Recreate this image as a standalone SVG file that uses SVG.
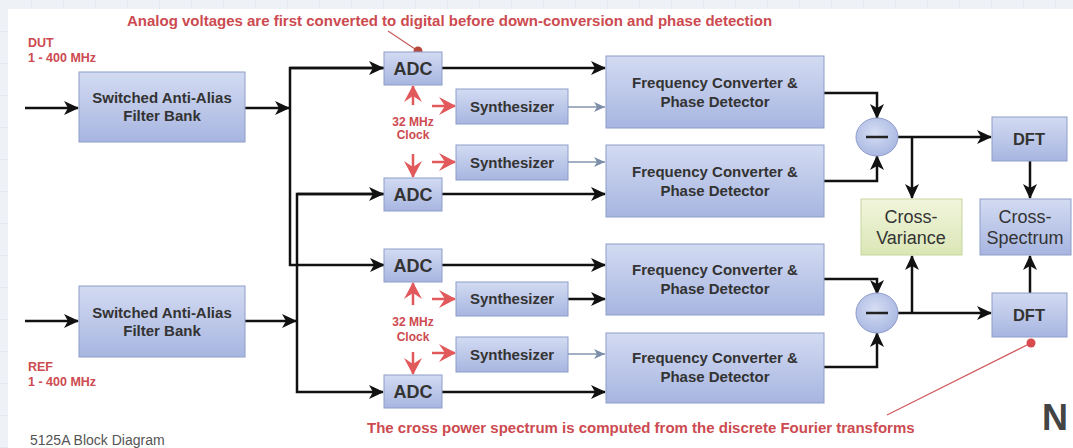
<svg xmlns="http://www.w3.org/2000/svg" width="1073" height="448" viewBox="0 0 1073 448">
  <defs>
    <linearGradient id="gBlue" x1="0" y1="0" x2="0" y2="1">
      <stop offset="0" stop-color="#d3dbf2"/>
      <stop offset="1" stop-color="#a7b5e0"/>
    </linearGradient>
    <linearGradient id="gGreen" x1="0" y1="0" x2="0" y2="1">
      <stop offset="0" stop-color="#f1f5dc"/>
      <stop offset="1" stop-color="#dbe6b6"/>
    </linearGradient>
    <radialGradient id="gCirc" cx="0.45" cy="0.4" r="0.7">
      <stop offset="0" stop-color="#d6def4"/>
      <stop offset="1" stop-color="#a3b2df"/>
    </radialGradient>
    <pattern id="grid" width="32" height="32" patternUnits="userSpaceOnUse">
      <rect width="32" height="32" fill="#eef2f7"/>
      <path d="M32,0 V32 M0,32 H32" stroke="#e2e8f0" stroke-width="1.5" fill="none"/>
    </pattern>
    <marker id="ab" markerUnits="userSpaceOnUse" markerWidth="16" markerHeight="14" refX="14" refY="7" orient="auto">
      <path d="M0,0 L15,7 L0,14 L4,7 z" fill="#111"/>
    </marker>
    <marker id="ag" markerUnits="userSpaceOnUse" markerWidth="12" markerHeight="10" refX="11" refY="5" orient="auto">
      <path d="M0,0 L11,5 L0,10 L3,5 z" fill="#7d8ea8"/>
    </marker>
    <marker id="ar" markerUnits="userSpaceOnUse" markerWidth="18" markerHeight="18" refX="16" refY="9" orient="auto">
      <path d="M0,0 L17,9 L0,18 L6,9 z" fill="#e2595c"/>
    </marker>
    <style>
      .box { fill: url(#gBlue); stroke: #8e9dca; stroke-width: 1; }
      .green { fill: url(#gGreen); stroke: #c7d59e; stroke-width: 1; }
      .circ { fill: url(#gCirc); stroke: #8e9dca; stroke-width: 1; }
      .t { font-family: "Liberation Sans", Arial, sans-serif; font-weight: bold; fill: #333; text-anchor: middle; }
      .t13 { font-size: 15px; }
      .t15 { font-size: 18px; }
      .tn { font-family: "Liberation Sans", Arial, sans-serif; font-size: 18px; fill: #333; text-anchor: middle; }
      .red { font-family: "Liberation Sans", Arial, sans-serif; font-weight: bold; fill: #cc4a50; }
      .blk { fill: none; stroke: #111; stroke-width: 2.5; }
      .gry { fill: none; stroke: #8495ae; stroke-width: 1.3; }
      .rarr { fill: none; stroke: #e2595c; stroke-width: 2.5; }
    </style>
  </defs>

  <rect width="1073" height="448" fill="url(#grid)"/>
  <rect x="8" y="9" width="1065" height="439" fill="#ffffff"/>

  <!-- labels -->
  <g id="labels">
    <text class="red" x="127" y="26" font-size="15px">Analog voltages are first converted to digital before down-conversion and phase detection</text>
    <text class="red" x="367" y="433" font-size="15px">The cross power spectrum is computed from the discrete Fourier transforms</text>
    <text class="red" x="28" y="47" font-size="12.5px">DUT</text>
    <text class="red" x="28" y="62" font-size="12.5px">1 - 400 MHz</text>
    <text class="red" x="28" y="371" font-size="12.5px">REF</text>
    <text class="red" x="28" y="386" font-size="12.5px">1 - 400 MHz</text>
    <text class="red" x="413" y="126" font-size="12px" text-anchor="middle">32 MHz</text>
    <text class="red" x="413" y="139" font-size="12px" text-anchor="middle">Clock</text>
    <text class="red" x="413" y="326" font-size="12px" text-anchor="middle">32 MHz</text>
    <text class="red" x="413" y="341" font-size="12px" text-anchor="middle">Clock</text>
    <text x="30" y="445" font-family="Liberation Sans, Arial, sans-serif" font-size="14px" fill="#555">5125A Block Diagram</text>
    <text x="1042" y="430" font-family="Liberation Sans, Arial, sans-serif" font-size="36px" font-weight="bold" fill="#444">N</text>
  </g>

  <!-- connectors -->
  <g id="connectors">
    <path class="blk" d="M25,108 H78" marker-end="url(#ab)"/>
    <path class="blk" d="M25,321 H78" marker-end="url(#ab)"/>
    <path class="blk" d="M245,108 H289" marker-end="url(#ab)"/>
    <path class="blk" d="M245,321 H296" marker-end="url(#ab)"/>
    <path class="blk" d="M384,68 H290 V265 H384" marker-end="url(#ab)"/>
    <path class="blk" d="M290,68 H383" marker-end="url(#ab)"/>
    <path class="blk" d="M384,194 H297 V392 H383" marker-end="url(#ab)"/>
    <path class="blk" d="M297,194 H383" marker-end="url(#ab)"/>

    <path class="blk" d="M442,68 H605" marker-end="url(#ab)"/>
    <path class="blk" d="M442,194 H605" marker-end="url(#ab)"/>
    <path class="blk" d="M442,265 H605" marker-end="url(#ab)"/>
    <path class="blk" d="M442,392 H605" marker-end="url(#ab)"/>

    <path class="gry" d="M568,107 H605" marker-end="url(#ag)"/>
    <path class="gry" d="M568,162 H605" marker-end="url(#ag)"/>
    <path class="blk" d="M568,299 H605" marker-end="url(#ab)"/>
    <path class="gry" d="M568,354 H605" marker-end="url(#ag)"/>

    <path class="rarr" d="M413,105 V86" marker-end="url(#ar)"/>
    <path class="rarr" d="M432,106 H455" marker-end="url(#ar)"/>
    <path class="rarr" d="M413,154 V177" marker-end="url(#ar)"/>
    <path class="rarr" d="M432,162 H455" marker-end="url(#ar)"/>
    <path class="rarr" d="M413,305 V283" marker-end="url(#ar)"/>
    <path class="rarr" d="M432,299 H455" marker-end="url(#ar)"/>
    <path class="rarr" d="M413,352 V374" marker-end="url(#ar)"/>
    <path class="rarr" d="M432,353 H455" marker-end="url(#ar)"/>

    <path class="blk" d="M824,93 H877 V118" marker-end="url(#ab)"/>
    <path class="blk" d="M824,181 H877 V156" marker-end="url(#ab)"/>
    <path class="blk" d="M824,279 H877 V294" marker-end="url(#ab)"/>
    <path class="blk" d="M824,367 H877 V333" marker-end="url(#ab)"/>

    <path class="blk" d="M898,137 H991" marker-end="url(#ab)"/>
    <path class="blk" d="M912,137 V198" marker-end="url(#ab)"/>
    <path class="blk" d="M1030,161 V198" marker-end="url(#ab)"/>
    <path class="blk" d="M898,313 H991" marker-end="url(#ab)"/>
    <path class="blk" d="M912,313 V256" marker-end="url(#ab)"/>
    <path class="blk" d="M1030,293 V256" marker-end="url(#ab)"/>

    <path d="M388,31 L418,51" stroke="#c45a5a" stroke-width="1.2" fill="none"/>
    <circle cx="418" cy="51" r="4.5" fill="#b5483a"/>
    <path d="M887,415 L1031,343" stroke="#d25a5e" stroke-width="1.2" fill="none"/>
    <circle cx="1031" cy="343" r="4.5" fill="#d84c50"/>
  </g>

  <!-- nodes -->
  <g id="filter1"><rect class="box" x="79" y="72" width="166" height="70"/>
    <text class="t t13" x="162" y="103">Switched Anti-Alias</text>
    <text class="t t13" x="162" y="121">Filter Bank</text></g>
  <g id="filter2"><rect class="box" x="79" y="286" width="166" height="71"/>
    <text class="t t13" x="162" y="318">Switched Anti-Alias</text>
    <text class="t t13" x="162" y="336">Filter Bank</text></g>

  <g id="adc1"><rect class="box" x="384" y="52" width="58" height="33"/><text class="t t15" x="413" y="75">ADC</text></g>
  <g id="adc2"><rect class="box" x="384" y="178" width="58" height="33"/><text class="t t15" x="413" y="201">ADC</text></g>
  <g id="adc3"><rect class="box" x="384" y="249" width="58" height="33"/><text class="t t15" x="413" y="272">ADC</text></g>
  <g id="adc4"><rect class="box" x="384" y="375" width="58" height="33"/><text class="t t15" x="413" y="398">ADC</text></g>

  <g id="syn1"><rect class="box" x="456" y="89" width="112" height="35"/><text class="t t13" x="512" y="112">Synthesizer</text></g>
  <g id="syn2"><rect class="box" x="456" y="145" width="112" height="35"/><text class="t t13" x="512" y="168">Synthesizer</text></g>
  <g id="syn3"><rect class="box" x="456" y="282" width="112" height="34"/><text class="t t13" x="512" y="304">Synthesizer</text></g>
  <g id="syn4"><rect class="box" x="456" y="337" width="112" height="35"/><text class="t t13" x="512" y="360">Synthesizer</text></g>

  <g id="fc1"><rect class="box" x="606" y="56" width="218" height="72"/>
    <text class="t t13" x="715" y="88">Frequency Converter &amp;</text>
    <text class="t t13" x="715" y="107">Phase Detector</text></g>
  <g id="fc2"><rect class="box" x="606" y="145" width="218" height="72"/>
    <text class="t t13" x="715" y="177">Frequency Converter &amp;</text>
    <text class="t t13" x="715" y="196">Phase Detector</text></g>
  <g id="fc3"><rect class="box" x="606" y="244" width="218" height="71"/>
    <text class="t t13" x="715" y="275">Frequency Converter &amp;</text>
    <text class="t t13" x="715" y="294">Phase Detector</text></g>
  <g id="fc4"><rect class="box" x="606" y="333" width="218" height="70"/>
    <text class="t t13" x="715" y="363">Frequency Converter &amp;</text>
    <text class="t t13" x="715" y="382">Phase Detector</text></g>

  <g id="sub1"><ellipse class="circ" cx="877" cy="137" rx="21" ry="19"/><path d="M866,137 H888" stroke="#222" stroke-width="2.5"/></g>
  <g id="sub2"><ellipse class="circ" cx="877" cy="313" rx="21" ry="20"/><path d="M866,313 H888" stroke="#222" stroke-width="2.5"/></g>

  <g id="dft1"><rect class="box" x="992" y="117" width="75" height="44"/><text class="t" font-size="16.5px" x="1029" y="145">DFT</text></g>
  <g id="dft2"><rect class="box" x="992" y="293" width="75" height="44"/><text class="t" font-size="16.5px" x="1029" y="321">DFT</text></g>

  <g id="crossvar"><rect class="green" x="861" y="199" width="101" height="56"/>
    <text class="tn" x="911" y="223">Cross-</text>
    <text class="tn" x="911" y="244">Variance</text></g>
  <g id="crossspec"><rect class="box" x="980" y="199" width="91" height="56"/>
    <text class="tn" x="1025" y="223">Cross-</text>
    <text class="tn" x="1025" y="244">Spectrum</text></g>
</svg>
